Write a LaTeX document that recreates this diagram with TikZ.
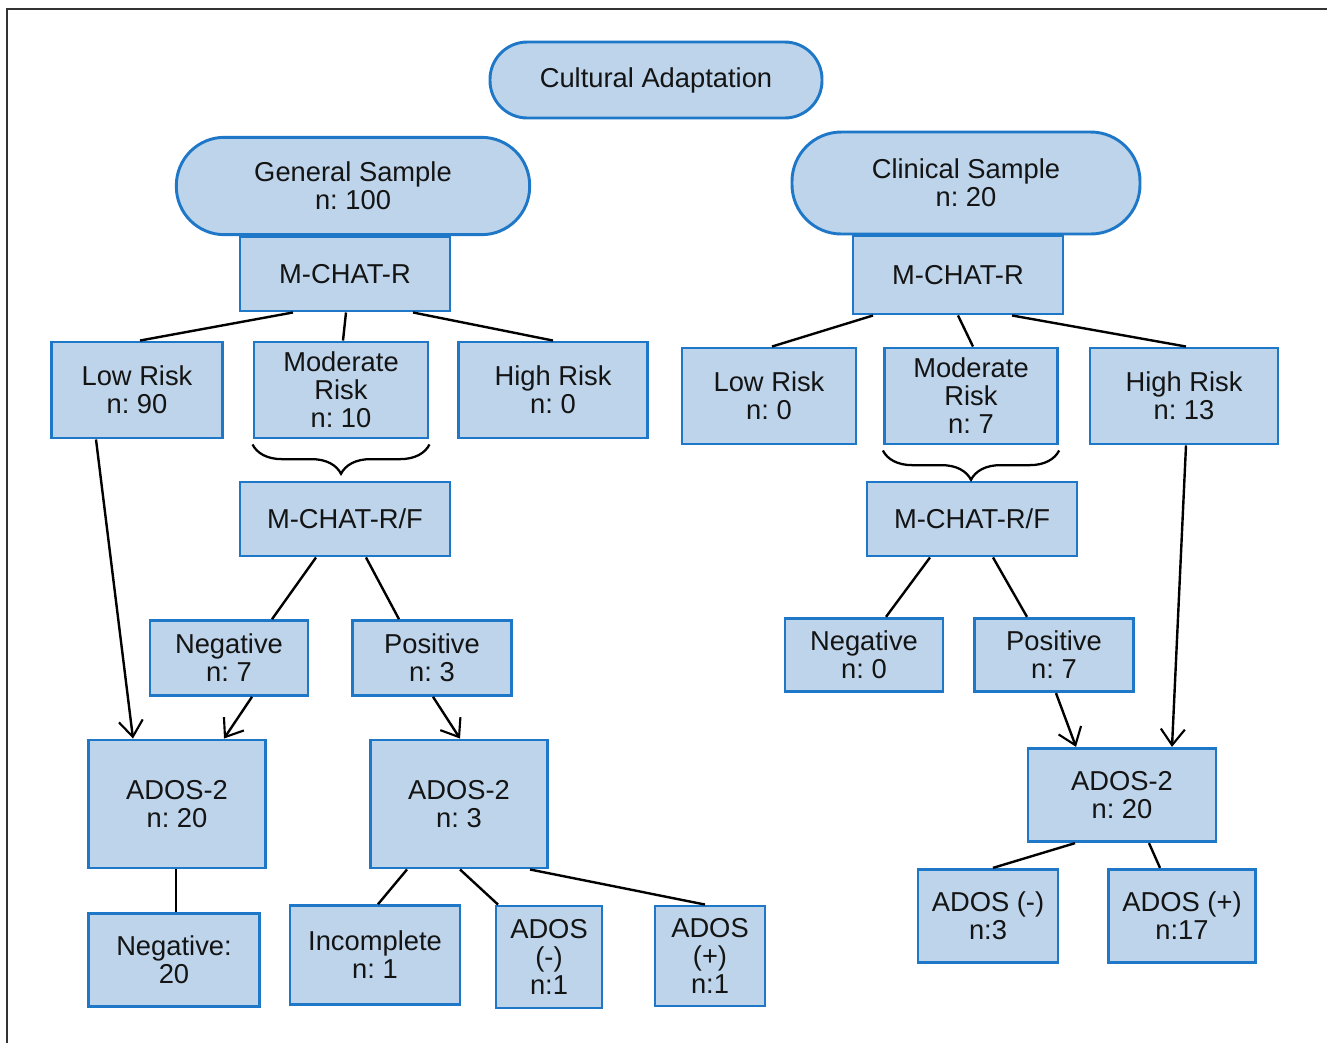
\documentclass[tikz,border=0pt]{standalone}
\usepackage{fontspec}
\setmainfont{Liberation Sans}
\usetikzlibrary{calc,arrows.meta,decorations.pathreplacing}
\definecolor{boxblue}{rgb}{0.118,0.467,0.780}
\definecolor{boxfill}{rgb}{0.741,0.831,0.922}
\definecolor{framegray}{rgb}{0.2,0.2,0.2}
\frenchspacing

\begin{document}
\begin{tikzpicture}[x=0.75pt,y=0.75pt,yscale=-1,xscale=1,
	box/.style={draw=boxblue,fill=boxfill,line width=2.2pt,align=center,inner sep=0pt,text=black!92,font=\fontsize{20.5}{21}\selectfont},
	pill/.style={box,rounded corners=#1},
	link/.style={line width=1.8pt},
	flow/.style={line width=1.8pt,-{Straight Barb[length=12pt,width=18pt,line width=1.6pt]}},
	brc/.style={line width=1.7pt,decorate,decoration={brace,mirror,amplitude=22pt}}]
			\useasboundingbox (0,0) rectangle (1327,1043);
			\draw[framegray,line width=1.3pt] (7,1043) -- (7,9) -- (1327,9);
			
			\node (cult) [pill=28pt,minimum width=249pt,minimum height=57pt] at (656,80) {Cultural Adaptation};
			\node (genS) [pill=36pt,minimum width=265pt,minimum height=73pt] at (353,186) {General Sample\\n: 100};
			\node (clinS) [pill=37pt,minimum width=261pt,minimum height=76.5pt] at (966,183) {Clinical Sample\\n: 20};
			\node (mchatL) [box,minimum width=157.5pt,minimum height=55.5pt] at (345,274) {M-CHAT-R};
			\node (mchatR) [box,minimum width=157.5pt,minimum height=58.5pt] at (958,275) {M-CHAT-R};
			\node (lowL) [box,minimum width=128pt,minimum height=72pt] at (137,390) {Low Risk\\n: 90};
			\node (modL) [box,minimum width=130.5pt,minimum height=72pt] at (341,390) {Moderate\\Risk\\n: 10};
			\node (highL) [box,minimum width=142pt,minimum height=72pt] at (553,390) {High Risk\\n: 0};
			\node (lowR) [box,minimum width=130.5pt,minimum height=72pt] at (769,396) {Low Risk\\n: 0};
			\node (modR) [box,minimum width=130pt,minimum height=72pt] at (971,396) {Moderate\\Risk\\n: 7};
			\node (highR) [box,minimum width=141pt,minimum height=72pt] at (1184,396) {High Risk\\n: 13};
			\node (rfL) [box,minimum width=157.5pt,minimum height=55.5pt] at (345,519) {M-CHAT-R/F};
			\node (rfR) [box,minimum width=157.5pt,minimum height=55.5pt] at (972,519) {M-CHAT-R/F};
			\node (negL) [box,minimum width=118.5pt,minimum height=56pt] at (229,658) {Negative\\n: 7};
			\node (posL) [box,minimum width=119pt,minimum height=56pt] at (432,658) {Positive\\n: 3};
			\node (negR) [box,minimum width=118.5pt,minimum height=55pt] at (864,655) {Negative\\n: 0};
			\node (posR) [box,minimum width=119pt,minimum height=55pt] at (1054,655) {Positive\\n: 7};
			\node (adosA) [box,minimum width=133pt,minimum height=96pt] at (177,804) {ADOS-2\\n: 20};
			\node (adosB) [box,minimum width=133pt,minimum height=96pt] at (459,804) {ADOS-2\\n: 3};
			\node (adosC) [box,minimum width=141pt,minimum height=70pt] at (1122,795) {ADOS-2\\n: 20};
			\node (negF) [box,minimum width=128pt,minimum height=70pt] at (174,960) {Negative:\\20};
			\node (incomp) [box,minimum width=127.5pt,minimum height=74pt] at (375,955) {Incomplete\\n: 1};
			\node (adosBm) [box,minimum width=79.5pt,minimum height=76.5pt] at (549,957) {ADOS\\(-)\\n:1};
			\node (adosBp) [box,minimum width=82.5pt,minimum height=75pt] at (710,956) {ADOS\\(+)\\n:1};
			\node (adosCm) [box,minimum width=105pt,minimum height=70pt] at (988,916) {ADOS (-)\\n:3};
			\node (adosCp) [box,minimum width=110pt,minimum height=70pt] at (1182,916) {ADOS (+)\\n:17};
			
			\draw[link] ($(mchatL.south)+(-52,0)$) -- ($(lowL.north)+(3,0)$);
			\draw[link] ($(mchatL.south)+(1,0)$) -- ($(modL.north)+(2,0)$);
			\draw[link] ($(mchatL.south)+(68,0)$) -- (highL.north);
			\draw[link] ($(mchatR.south)+(-85,0)$) -- ($(lowR.north)+(3,0)$);
			\draw[link] (mchatR.south) -- ($(modR.north)+(2,0)$);
			\draw[link] ($(mchatR.south)+(54,0)$) -- ($(highR.north)+(2,0)$);
			\draw[brc] ($(modL.south west)+(0,5)$) -- ($(modL.south east)+(0,5)$);
			\draw[brc] ($(modR.south west)+(0,5)$) -- ($(modR.south east)+(0,5)$);
			\draw[link] ($(rfL.south)+(-29,0)$) -- ($(negL.north)+(43,0)$);
			\draw[link] ($(rfL.south)+(21,0)$) -- ($(posL.north)+(-33,0)$);
			\draw[link] ($(rfR.south)+(-42,0)$) -- ($(negR.north)+(22,0)$);
			\draw[link] ($(rfR.south)+(21,0)$) -- ($(posR.north)+(-27,0)$);
			\draw[flow] ($(lowL.south)+(-41,0)$) -- ($(adosA.north)+(-44,0)$);
			\draw[flow] ($(negL.south)+(23,0)$) -- ($(adosA.north)+(47,0)$);
			\draw[flow] ($(posL.south)+(1,0)$) -- ($(adosB.north)+(1,0)$);
			\draw[flow] ($(posR.south)+(2,0)$) -- ($(adosC.north)+(-46,0)$);
			\draw[flow] ($(highR.south)+(2,0)$) -- ($(adosC.north)+(50,0)$);
			\draw[link] ($(adosA.south)+(-1,0)$) -- ($(negF.north)+(2,0)$);
			\draw[link] ($(adosB.south)+(-52,0)$) -- ($(incomp.north)+(3,0)$);
			\draw[link] ($(adosB.south)+(1,0)$) -- ($(adosBm.north)+(-51,0)$);
			\draw[link] ($(adosB.south)+(71,0)$) -- ($(adosBp.north)+(-5,0)$);
			\draw[link] ($(adosC.south)+(-47,0)$) -- ($(adosCm.north)+(5,0)$);
			\draw[link] ($(adosC.south)+(27,0)$) -- ($(adosCp.north)+(-22,0)$);
\end{tikzpicture}
\end{document}
